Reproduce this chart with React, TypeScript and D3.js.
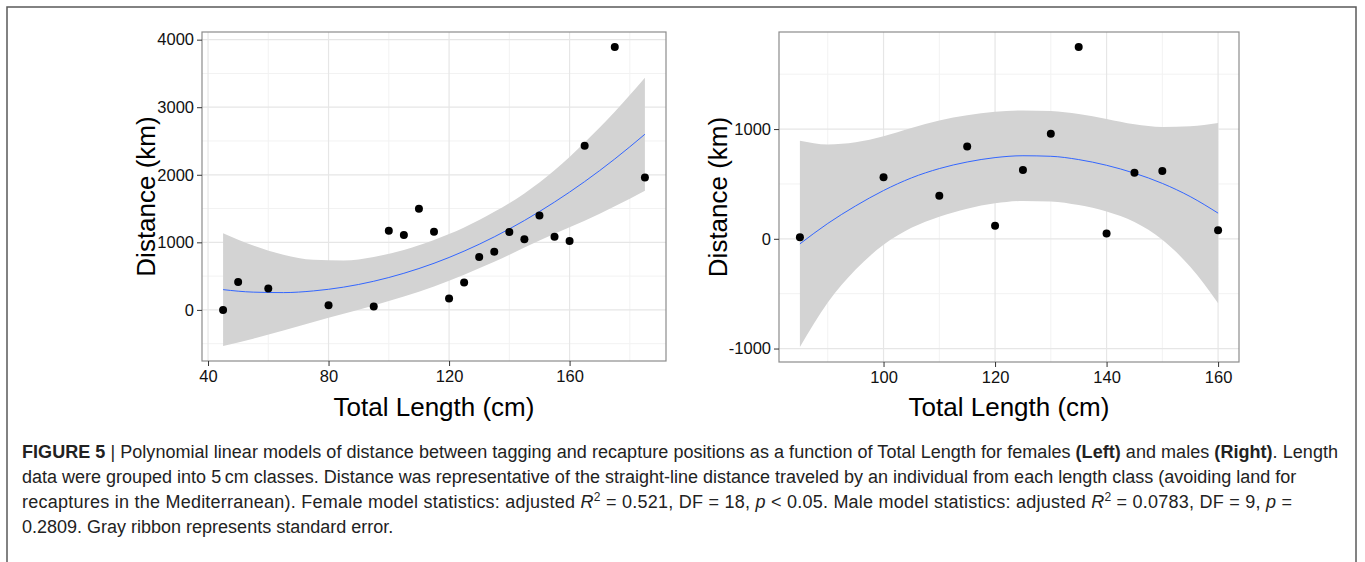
import React, { useEffect, useRef } from 'react';
import * as d3 from 'd3';

// female observations (5 cm classes)
const femaleLength = [45, 50, 60, 80, 95, 100, 105, 110, 115, 120, 125, 130, 135, 140, 145, 150, 155, 160, 165, 175, 185];
const femaleDistance = [0, 414, 315, 69, 49, 1172, 1108, 1498, 1158, 167, 404, 783, 862, 1153, 1044, 1399, 1084, 1020, 2429, 3892, 1961];

// female fitted curve and standard error ribbon
const femaleFitX = [45, 55, 65, 75, 85, 95, 105, 115, 125, 135, 145, 155, 165, 175, 185];
const femaleFit = [300, 263, 256, 281, 337, 424, 542, 690, 870, 1081, 1323, 1596, 1899, 2234, 2600];
const femaleLower = [-535, -427, -304, -179, -58, 64, 197, 345, 520, 711, 923, 1126, 1319, 1534, 1765];
const femaleUpper = [1135, 953, 816, 741, 732, 784, 887, 1035, 1220, 1451, 1723, 2066, 2479, 2934, 3435];

// male observations
const maleLength = [85, 100, 110, 115, 120, 125, 130, 135, 140, 145, 150, 160];
const maleDistance = [15, 562, 392, 842, 119, 626, 957, 1748, 49, 602, 617, 79];

// male fitted curve and ribbon
const maleFitX = [85, 90, 95, 100, 105, 110, 115, 120, 125, 130, 135, 140, 145, 150, 155, 160];
const maleFit = [-46, 140, 300, 440, 555, 640, 700, 740, 757, 752, 722, 670, 598, 505, 385, 234];
const maleLower = [-986, -580, -280, -55, 100, 202, 275, 323, 345, 340, 307, 248, 153, -9, -255, -587];
const maleUpper = [894, 860, 880, 935, 1010, 1078, 1125, 1157, 1169, 1164, 1137, 1092, 1043, 1019, 1025, 1055];

const femaleXMajor = [40, 80, 120, 160];
const femaleXMinor = [60, 100, 140, 180];
const femaleYMajor = [0, 1000, 2000, 3000, 4000];
const femaleYMinor = [-500, 500, 1500, 2500, 3500];

const maleXMajor = [100, 120, 140, 160];
const maleXMinor = [90, 110, 130, 150];
const maleYMajor = [-1000, 0, 1000];
const maleYMinor = [-500, 500, 1500];

const FONT = "'Liberation Sans', Arial, Helvetica, sans-serif";

interface PanelSpec {
  left: number;
  right: number;
  top: number;
  bottom: number;
  xs: number[];
  ys: number[];
  fitX: number[];
  fit: number[];
  lower: number[];
  upper: number[];
  xMajor: number[];
  xMinor: number[];
  yMajor: number[];
  yMinor: number[];
  yTitleX: number;
}

const panels: PanelSpec[] = [
  {
    left: 202, right: 666, top: 32, bottom: 361,
    xs: femaleLength, ys: femaleDistance,
    fitX: femaleFitX, fit: femaleFit, lower: femaleLower, upper: femaleUpper,
    xMajor: femaleXMajor, xMinor: femaleXMinor, yMajor: femaleYMajor, yMinor: femaleYMinor,
    yTitleX: 155,
  },
  {
    left: 779, right: 1239, top: 32, bottom: 362,
    xs: maleLength, ys: maleDistance,
    fitX: maleFitX, fit: maleFit, lower: maleLower, upper: maleUpper,
    xMajor: maleXMajor, xMinor: maleXMinor, yMajor: maleYMajor, yMinor: maleYMinor,
    yTitleX: 727,
  },
];

// ggplot style 5% expansion
const expand = (lo: number, hi: number): [number, number] => {
  const pad = (hi - lo) * 0.05;
  return [lo - pad, hi + pad];
};

type Run = { t: string; b?: boolean; i?: boolean; sup?: boolean };

const captionLines: Run[][] = [
  [
    { t: 'FIGURE 5', b: true },
    { t: ' | Polynomial linear models of distance between tagging and recapture positions as a function of Total Length for females ' },
    { t: '(Left)', b: true },
    { t: ' and males ' },
    { t: '(Right)', b: true },
    { t: '. Length' },
  ],
  [
    { t: 'data were grouped into 5\u2009cm classes. Distance was representative of the straight-line distance traveled by an individual from each length class (avoiding land for' },
  ],
  [
    { t: 'recaptures in the Mediterranean). Female model statistics: adjusted ' },
    { t: 'R', i: true }, { t: '2', sup: true },
    { t: ' = 0.521, DF = 18, ' }, { t: 'p', i: true },
    { t: ' < 0.05. Male model statistics: adjusted ' },
    { t: 'R', i: true }, { t: '2', sup: true },
    { t: ' = 0.0783, DF = 9, ' }, { t: 'p', i: true }, { t: ' =' },
  ],
  [
    { t: '0.2809. Gray ribbon represents standard error.' },
  ],
];
const captionY = [458, 483, 508, 533];
const captionLen: (number | null)[] = [1316, null, 1270, null];

const App: React.FC = () => {
  const svgRef = useRef<SVGSVGElement>(null);

  useEffect(() => {
    if (!svgRef.current) { return; }
    const svg = d3.select(svgRef.current);
    svg.selectAll('*').remove();

    // outer frame of the figure
    svg.append('rect')
      .attr('x', 7).attr('y', 7)
      .attr('width', 1349).attr('height', 600)
      .attr('fill', 'none')
      .attr('stroke', '#5a5a5a')
      .attr('stroke-width', 1.5);

    panels.forEach((p) => {
      const xDom = expand(d3.min(p.xs)!, d3.max(p.xs)!);
      const yDom = expand(
        Math.min(d3.min(p.ys)!, d3.min(p.lower)!),
        Math.max(d3.max(p.ys)!, d3.max(p.upper)!),
      );
      const x = d3.scaleLinear().domain(xDom).range([p.left, p.right]);
      const y = d3.scaleLinear().domain(yDom).range([p.bottom, p.top]);

      const g = svg.append('g');

      // grid
      g.selectAll('.vminor').data(p.xMinor).enter().append('line')
        .attr('x1', d => x(d)).attr('x2', d => x(d))
        .attr('y1', p.top).attr('y2', p.bottom)
        .attr('stroke', '#f2f2f2').attr('stroke-width', 1);
      g.selectAll('.hminor').data(p.yMinor).enter().append('line')
        .attr('y1', d => y(d)).attr('y2', d => y(d))
        .attr('x1', p.left).attr('x2', p.right)
        .attr('stroke', '#f2f2f2').attr('stroke-width', 1);
      g.selectAll('.vmajor').data(p.xMajor).enter().append('line')
        .attr('x1', d => x(d)).attr('x2', d => x(d))
        .attr('y1', p.top).attr('y2', p.bottom)
        .attr('stroke', '#e6e6e6').attr('stroke-width', 1.2);
      g.selectAll('.hmajor').data(p.yMajor).enter().append('line')
        .attr('y1', d => y(d)).attr('y2', d => y(d))
        .attr('x1', p.left).attr('x2', p.right)
        .attr('stroke', '#e6e6e6').attr('stroke-width', 1.2);

      // standard error ribbon
      const idx = d3.range(p.fitX.length);
      const ribbon = d3.area<number>()
        .x(i => x(p.fitX[i]))
        .y0(i => y(p.lower[i]))
        .y1(i => y(p.upper[i]))
        .curve(d3.curveMonotoneX);
      g.append('path').attr('d', ribbon(idx)!).attr('fill', '#d3d3d3');

      const line = d3.line<number>()
        .x(i => x(p.fitX[i]))
        .y(i => y(p.fit[i]))
        .curve(d3.curveMonotoneX);
      g.append('path').attr('d', line(idx)!)
        .attr('fill', 'none').attr('stroke', '#3366ff').attr('stroke-width', 1);

      // points
      g.selectAll('.pt').data(d3.range(p.xs.length)).enter().append('circle')
        .attr('cx', i => x(p.xs[i]))
        .attr('cy', i => y(p.ys[i]))
        .attr('r', 4)
        .attr('fill', '#000');

      // panel border
      g.append('rect')
        .attr('x', p.left).attr('y', p.top)
        .attr('width', p.right - p.left).attr('height', p.bottom - p.top)
        .attr('fill', 'none').attr('stroke', '#8c8c8c').attr('stroke-width', 1.2);

      // axes
      const yAxis = d3.axisLeft(y).tickValues(p.yMajor).tickSize(5).tickPadding(3)
        .tickFormat(d => String(d));
      const yg = g.append('g').attr('transform', `translate(${p.left},0)`).call(yAxis);
      const xAxis = d3.axisBottom(x).tickValues(p.xMajor).tickSize(5).tickPadding(4)
        .tickFormat(d => String(d));
      const xg = g.append('g').attr('transform', `translate(0,${p.bottom})`).call(xAxis);
      [yg, xg].forEach((ax) => {
        ax.select('.domain').remove();
        ax.selectAll('line').attr('stroke', '#333').attr('stroke-width', 1);
        ax.selectAll('text')
          .attr('fill', '#111')
          .style('font-family', FONT)
          .style('font-size', '16.5px');
      });

      // axis titles
      g.append('text')
        .attr('x', (p.left + p.right) / 2)
        .attr('y', 416)
        .attr('text-anchor', 'middle')
        .style('font-family', FONT)
        .style('font-size', '26px')
        .attr('fill', '#000')
        .text('Total Length (cm)');
      g.append('text')
        .attr('transform', `translate(${p.yTitleX},${(p.top + p.bottom) / 2}) rotate(-90)`)
        .attr('text-anchor', 'middle')
        .style('font-family', FONT)
        .style('font-size', '26px')
        .attr('fill', '#000')
        .text('Distance (km)');
    });

    // caption
    captionLines.forEach((runs, li) => {
      const txt = svg.append('text')
        .attr('x', 22)
        .attr('y', captionY[li])
        .style('font-family', FONT)
        .style('font-size', '18px')
        .attr('fill', '#222');
      const len = captionLen[li];
      if (len) { txt.attr('textLength', len).attr('lengthAdjust', 'spacing'); }
      runs.forEach((r, ri) => {
        const s = txt.append('tspan').text(r.t);
        if (r.b) { s.attr('font-weight', 'bold'); }
        if (r.i) { s.attr('font-style', 'italic'); }
        if (r.sup) { s.attr('dy', -7).style('font-size', '12px'); }
        else if (ri > 0 && runs[ri - 1].sup) { s.attr('dy', 7); }
      });
    });
  }, []);

  return (
    <svg
      ref={svgRef}
      width={1365}
      height={562}
      style={{ position: 'absolute', left: 0, top: 0, background: '#fff' }}
    />
  );
};

export default App;
